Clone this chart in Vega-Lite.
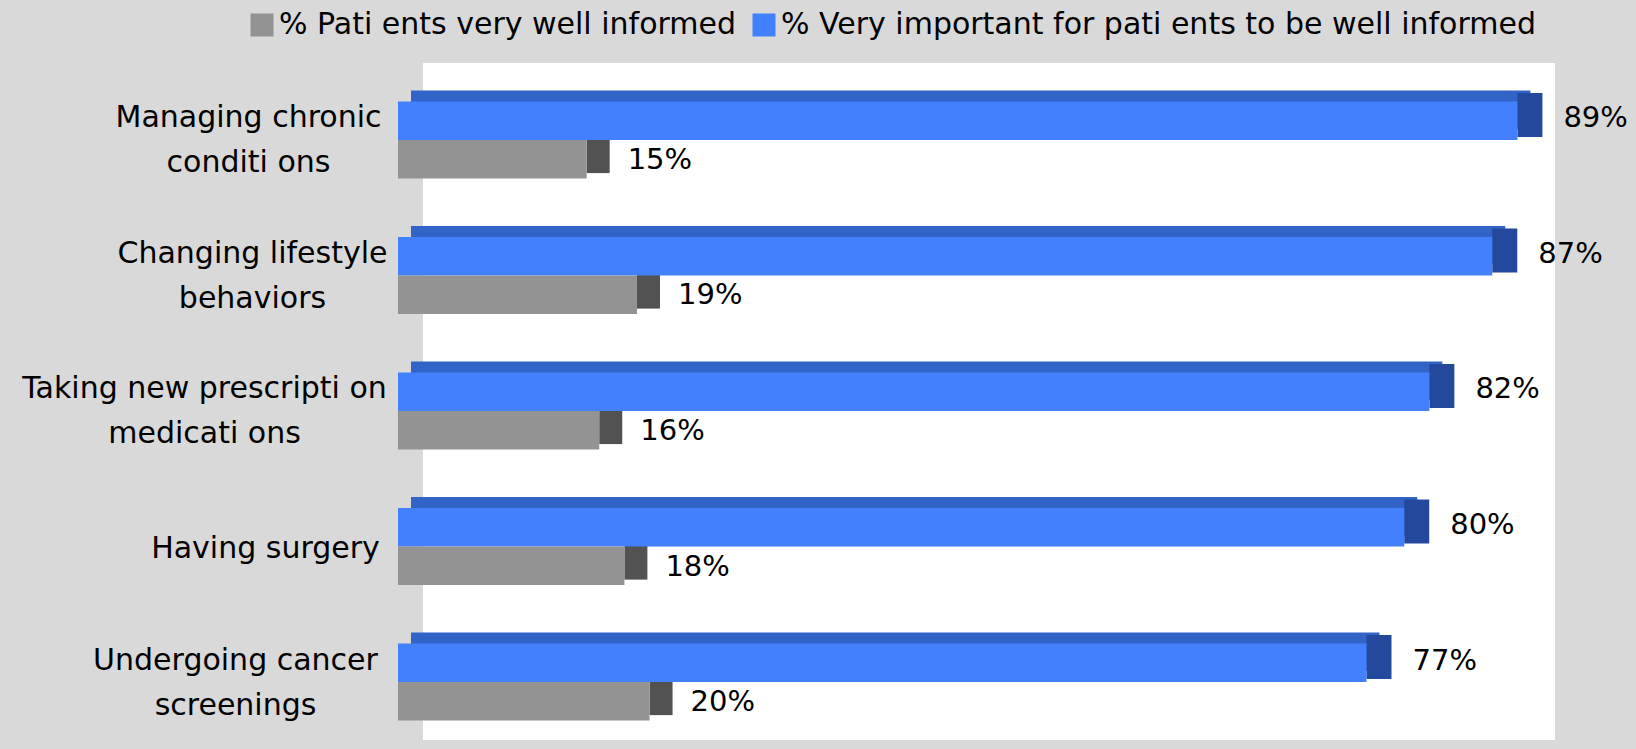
{
  "$schema": "https://vega.github.io/schema/vega-lite/v6.json",
  "width": 1132,
  "height": 677,
  "autosize": {"type": "none"},
  "padding": {"left": 423, "top": 63, "right": 81, "bottom": 9},
  "background": "#d9d9d9",
  "config": {
    "view": {"fill": "#ffffff", "stroke": null},
    "font": "DejaVu Sans"
  },
  "data": {
    "values": [
      {"category": "Managing chronic conditi ons", "series": "% Very important for pati ents to be well informed", "value": 0.89},
      {"category": "Managing chronic conditi ons", "series": "% Pati ents very well informed", "value": 0.15},
      {"category": "Changing lifestyle behaviors", "series": "% Very important for pati ents to be well informed", "value": 0.87},
      {"category": "Changing lifestyle behaviors", "series": "% Pati ents very well informed", "value": 0.19},
      {"category": "Taking new prescripti on medicati ons", "series": "% Very important for pati ents to be well informed", "value": 0.82},
      {"category": "Taking new prescripti on medicati ons", "series": "% Pati ents very well informed", "value": 0.16},
      {"category": "Having surgery", "series": "% Very important for pati ents to be well informed", "value": 0.80},
      {"category": "Having surgery", "series": "% Pati ents very well informed", "value": 0.18},
      {"category": "Undergoing cancer screenings", "series": "% Very important for pati ents to be well informed", "value": 0.77},
      {"category": "Undergoing cancer screenings", "series": "% Pati ents very well informed", "value": 0.20}
    ]
  },
  "encoding": {
    "y": {
      "field": "category",
      "type": "nominal",
      "sort": null,
      "scale": {"paddingInner": 0.43, "paddingOuter": 0.213, "align": 0.474},
      "axis": {
        "title": null,
        "domain": false,
        "ticks": false,
        "grid": false,
        "labelFont": "DejaVu Sans",
        "labelFontSize": 30,
        "labelColor": "#000000",
        "labelAlign": "center",
        "labelBaseline": "middle",
        "labelLineHeight": 45,
        "labelOffset": {"expr": "datum.value == 'Having surgery' ? 13 : -10.5"},
        "labelLimit": 600,
        "labelPadding": {"expr": "datum.value == 'Taking new prescripti on medicati ons' ? 219 : datum.value == 'Having surgery' ? 158 : datum.value == 'Undergoing cancer screenings' ? 188 : datum.value == 'Changing lifestyle behaviors' ? 171 : 175"},
        "labelExpr": "datum.label == 'Managing chronic conditi ons' ? ['Managing chronic', 'conditi ons'] : datum.label == 'Changing lifestyle behaviors' ? ['Changing lifestyle', 'behaviors'] : datum.label == 'Taking new prescripti on medicati ons' ? ['Taking new prescripti on', 'medicati ons'] : datum.label == 'Undergoing cancer screenings' ? ['Undergoing cancer', 'screenings'] : datum.label"
      }
    }
  },
  "layer": [
    {
      "transform": [{"filter": "datum.series == '% Very important for pati ents to be well informed'"}],
      "mark": {"type": "bar", "color": "#3264c8", "height": 38.6, "yOffset": -19.3, "xOffset": -12, "x2Offset": -25},
      "encoding": {
        "x": {"field": "value", "type": "quantitative", "scale": {"domain": [0, 0.9], "nice": false}, "axis": null}
      }
    },
    {
      "transform": [{"filter": "datum.series == '% Very important for pati ents to be well informed'"}],
      "mark": {"type": "bar", "color": "#24489b", "height": 44, "yOffset": -14, "xOffset": -25, "x2Offset": 0},
      "encoding": {
        "x": {"field": "value", "type": "quantitative"},
        "x2": {"field": "value"}
      }
    },
    {
      "transform": [{"filter": "datum.series == '% Pati ents very well informed'"}],
      "mark": {"type": "bar", "color": "#525252", "height": 38.6, "yOffset": 24.8, "xOffset": -25, "x2Offset": -2},
      "encoding": {
        "x": {"field": "value", "type": "quantitative"},
        "x2": {"field": "value"}
      }
    },
    {
      "transform": [{"filter": "datum.series == '% Very important for pati ents to be well informed'"}],
      "mark": {"type": "bar", "height": 38.6, "yOffset": -8.3, "xOffset": -25, "x2Offset": -25},
      "encoding": {
        "x": {"field": "value", "type": "quantitative"},
        "color": {
          "field": "series",
          "type": "nominal",
          "scale": {"domain": ["% Pati ents very well informed", "% Very important for pati ents to be well informed"], "range": ["#939393", "#4280fd"]},
          "legend": {
            "title": null,
            "orient": "none",
            "legendX": -176,
            "legendY": -53,
            "direction": "horizontal",
            "symbolType": "square",
            "symbolSize": 529,
            "symbolStrokeWidth": 0,
            "labelFont": "DejaVu Sans",
            "labelFontSize": 30,
            "labelColor": "#000000",
            "labelOffset": 2,
            "labelLimit": 900,
            "columnPadding": 12
          }
        }
      }
    },
    {
      "transform": [{"filter": "datum.series == '% Pati ents very well informed'"}],
      "mark": {"type": "bar", "height": 38.6, "yOffset": 30.3, "xOffset": -25, "x2Offset": -25},
      "encoding": {
        "x": {"field": "value", "type": "quantitative"},
        "color": {"field": "series", "type": "nominal"}
      }
    },
    {
      "transform": [{"filter": "datum.series == '% Very important for pati ents to be well informed'"}],
      "mark": {"type": "text", "align": "left", "baseline": "middle", "dx": 21, "dy": -10.5, "fontSize": 29, "font": "DejaVu Sans", "color": "#000000"},
      "encoding": {
        "x": {"field": "value", "type": "quantitative"},
        "text": {"field": "value", "type": "quantitative", "format": ".0%"}
      }
    },
    {
      "transform": [{"filter": "datum.series == '% Pati ents very well informed'"}],
      "mark": {"type": "text", "align": "left", "baseline": "middle", "dx": 16, "dy": 31, "fontSize": 29, "font": "DejaVu Sans", "color": "#000000"},
      "encoding": {
        "x": {"field": "value", "type": "quantitative"},
        "text": {"field": "value", "type": "quantitative", "format": ".0%"}
      }
    }
  ]
}
